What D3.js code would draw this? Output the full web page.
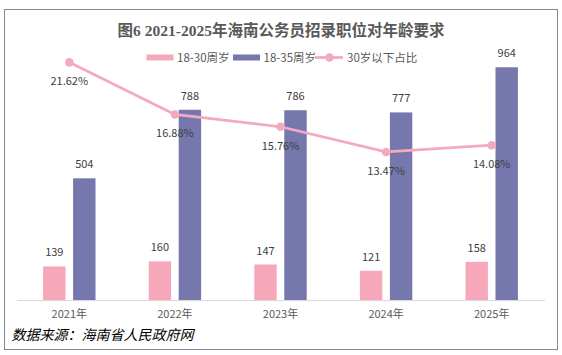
<!DOCTYPE html>
<html><head><meta charset="utf-8">
<script src="https://cdn.jsdelivr.net/npm/d3@7/dist/d3.min.js"></script>
<style>
html,body{margin:0;padding:0;background:#fff;}
svg{display:block;}
</style></head>
<body>
<svg id="c" width="562" height="355"></svg>
<script>
const years = ["2021年","2022年","2023年","2024年","2025年"];
const series = ["18-30周岁","18-35周岁"];
const age30 = [139,160,147,121,158];
const age35 = [504,788,786,777,964];
const ratio = [0.2162,0.1688,0.1576,0.1347,0.1408];
const ratioLabels = ["21.62%","16.88%","15.76%","13.47%","14.08%"];
const title = "图6 2021-2025年海南公务员招录职位对年龄要求";
const source = "数据来源：海南省人民政府网";
const legendLine = "30岁以下占比";

const colors = {pink:"#f6a8ba", purple:"#7577ad", line:"#f4aabe"};
const svg = d3.select("#c");
const font = "'Noto Sans CJK SC','Noto Sans',sans-serif";

svg.append("rect").attr("x",4.5).attr("y",9.5).attr("width",553).attr("height",340)
  .attr("fill","#fff").attr("stroke","#868694").attr("stroke-width",1);

const x = d3.scaleBand().domain(years).range([16.5,544.5]).padding(0);
const xs = d3.scaleBand().domain(series).range([-26.2,26.2]).paddingInner(0.253);
const y = d3.scaleLinear().domain([0,1200]).range([300,10.3]);
const y2 = d3.scaleLinear().domain([0,0.25]).range([300,25.2]);
const cx = d => x(d) + x.bandwidth()/2;

// title
svg.append("text").attr("x",281).attr("y",35.5).attr("text-anchor","middle")
  .attr("font-family","'Liberation Serif','Noto Sans CJK SC',serif").attr("font-weight","bold")
  .attr("font-size",15.5).attr("fill","#595959").text(title);

// axis
const xAxis = svg.append("g").attr("transform","translate(0,300)")
  .call(d3.axisBottom(x).tickSize(0).tickPadding(10));
xAxis.select(".domain").attr("stroke","#d9d9d9").attr("stroke-width",1);
xAxis.selectAll("text").attr("font-family",font).attr("font-size",11).attr("fill","#595959");

// bars
const data = years.map((yr,i)=>({yr, vals:[age30[i],age35[i]]}));
const g = svg.append("g");
data.forEach(d=>{
  d.vals.forEach((v,j)=>{
    const bx = cx(d.yr) + xs(series[j]);
    g.append("rect").attr("x",bx).attr("y",y(v)).attr("width",xs.bandwidth())
      .attr("height",y(0)-y(v)).attr("fill", j===0?colors.pink:colors.purple);
    g.append("text").attr("x",bx+xs.bandwidth()/2).attr("y",y(v)-10)
      .attr("text-anchor","middle").attr("font-family",font).attr("font-size",11)
      .attr("fill","#404040").text(v);
  });
});

// line
const line = d3.line().x((d,i)=>cx(years[i])).y(d=>y2(d));
svg.append("path").datum(ratio).attr("d",line).attr("fill","none")
  .attr("stroke",colors.line).attr("stroke-width",2.75).attr("stroke-linejoin","round");
svg.selectAll(".pt").data(ratio).enter().append("circle")
  .attr("cx",(d,i)=>cx(years[i])).attr("cy",d=>y2(d)).attr("r",4.3).attr("fill",colors.line);
svg.selectAll(".pl").data(ratio).enter().append("text")
  .attr("x",(d,i)=>cx(years[i])).attr("y",d=>y2(d)+23).attr("text-anchor","middle")
  .attr("font-family",font).attr("font-size",11).attr("fill","#404040")
  .text((d,i)=>ratioLabels[i]);

// legend
const lg = svg.append("g").attr("font-family",font).attr("font-size",11.5).attr("fill","#595959");
lg.append("rect").attr("x",146.5).attr("y",54.5).attr("width",27).attr("height",6).attr("fill",colors.pink);
lg.append("text").attr("x",177).attr("y",61.5).text(series[0]);
lg.append("rect").attr("x",233).attr("y",54.5).attr("width",27).attr("height",6).attr("fill",colors.purple);
lg.append("text").attr("x",263.5).attr("y",61.5).text(series[1]);
lg.append("line").attr("x1",315).attr("x2",343).attr("y1",57.5).attr("y2",57.5)
  .attr("stroke",colors.line).attr("stroke-width",2.75);
lg.append("circle").attr("cx",329.5).attr("cy",57.5).attr("r",4.3).attr("fill",colors.line);
lg.append("text").attr("x",347).attr("y",61.5).text(legendLine);

// source
svg.append("text").attr("x",11.5).attr("y",340).attr("font-family",font).attr("font-size",14)
  .attr("font-style","italic").attr("fill","#000").text(source);
</script>
</body></html>
